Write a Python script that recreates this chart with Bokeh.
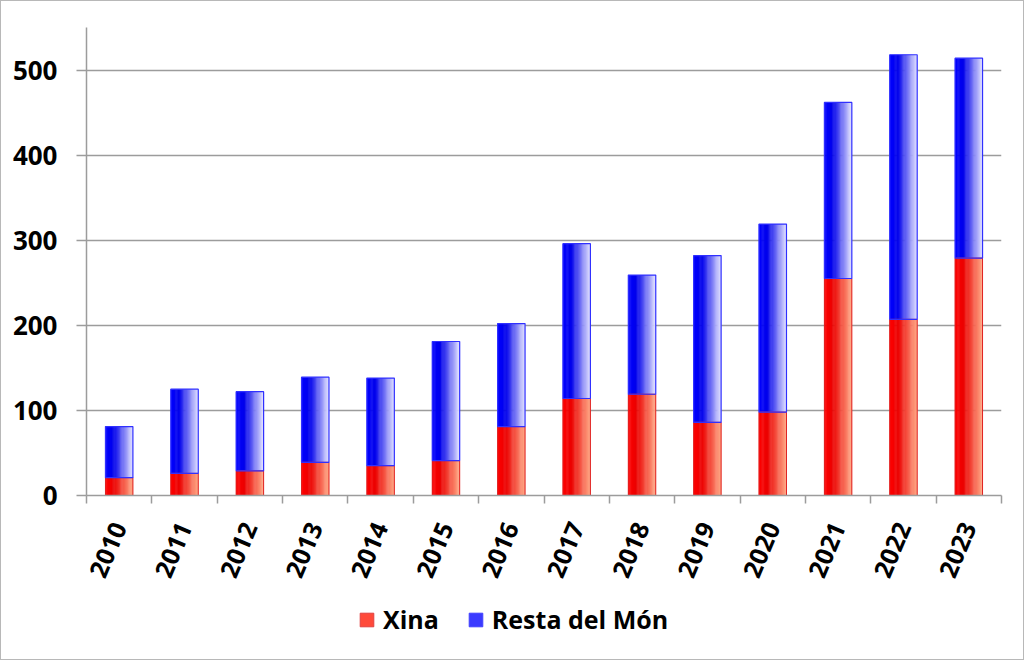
import math
from bokeh.plotting import figure
from bokeh.layouts import column
from bokeh.models import Range1d, FixedTicker, Legend, LegendItem, ColumnDataSource
from bokeh.embed import file_html
from bokeh.resources import INLINE

years = ["2010", "2011", "2012", "2013", "2014", "2015", "2016",
         "2017", "2018", "2019", "2020", "2021", "2022", "2023"]
xina = [21, 26, 29, 39, 35, 41, 81, 114, 119, 86, 98, 255, 207, 279]
total = [81, 125, 122, 139, 138, 181, 202, 296, 259, 282, 319, 462, 518, 514]
resta = [t - c for t, c in zip(total, xina)]

y_ticks = [0, 100, 200, 300, 400, 500]

FONT = "Open Sans"
GRID = "#9c9c9c"

def hexc(rgb):
    return "#%02x%02x%02x" % tuple(int(round(v)) for v in rgb)

def grad(stops, t):
    for (t0, c0), (t1, c1) in zip(stops, stops[1:]):
        if t <= t1:
            f = (t - t0) / (t1 - t0) if t1 > t0 else 0
            return hexc([a + (b - a) * f for a, b in zip(c0, c1)])
    return hexc(stops[-1][1])

red_stops = [(0.0, (255, 0, 0)), (0.3, (235, 0, 0)), (1.0, (255, 170, 135))]
blue_stops = [(0.0, (0, 0, 255)), (0.3, (0, 0, 235)), (1.0, (228, 228, 255))]

p = figure(width=1022, height=590, output_backend="svg", toolbar_location=None,
           x_range=Range1d(0, len(years)), y_range=Range1d(0, 550),
           min_border_left=85, min_border_top=26, min_border_right=22,
           min_border_bottom=96)
p.outline_line_color = None
p.background_fill_color = "white"
p.border_fill_color = "white"

BW = 0.42
N = 24
centers = [i + 0.5 for i in range(len(years))]

# gradient strips
for seg_bottom, seg_top, stops in ((
        [0] * len(years), xina, red_stops), (xina, total, blue_stops)):
    xs, bs, ts, cs = [], [], [], []
    for c, b, t in zip(centers, seg_bottom, seg_top):
        for j in range(N):
            f = (j + 0.5) / N
            xs.append(c - BW / 2 + f * BW)
            bs.append(b)
            ts.append(t)
            cs.append(grad(stops, f))
    src = ColumnDataSource(dict(x=xs, bottom=bs, top=ts, color=cs))
    p.vbar(x="x", bottom="bottom", top="top", width=BW / N * 1.4,
           fill_color="color", line_color=None, source=src)

r_out = p.vbar(x=centers, bottom=0, top=xina, width=BW, fill_alpha=0,
               line_color="#e02020", line_width=1)
b_out = p.vbar(x=centers, bottom=xina, top=total, width=BW, fill_alpha=0,
               line_color="#3030ff", line_width=1.2)

# axes
xa = p.xaxis[0]
xa.ticker = FixedTicker(ticks=centers, minor_ticks=list(range(len(years) + 1)))
xa.major_label_overrides = {c: y for c, y in zip(centers, years)}
xa.major_tick_out = 0
xa.major_tick_in = 0
xa.minor_tick_out = 8
xa.minor_tick_in = 0
xa.minor_tick_line_color = GRID
xa.minor_tick_line_width = 1.5
xa.axis_line_color = GRID
xa.axis_line_width = 1.5
xa.major_label_orientation = math.radians(67)
xa.major_label_text_font = FONT
xa.major_label_text_font_style = "bold"
xa.major_label_text_font_size = "25px"
xa.major_label_text_color = "black"
xa.major_label_standoff = 20

ya = p.yaxis[0]
ya.ticker = FixedTicker(ticks=y_ticks)
ya.major_tick_out = 10
ya.major_tick_in = 0
ya.minor_tick_out = 0
ya.minor_tick_in = 0
ya.major_tick_line_color = GRID
ya.major_tick_line_width = 1.5
ya.axis_line_color = GRID
ya.axis_line_width = 1.5
ya.major_label_text_font = FONT
ya.major_label_text_font_style = "bold"
ya.major_label_text_font_size = "26px"
ya.major_label_text_color = "black"
ya.major_label_standoff = 19

p.xgrid.grid_line_color = None
p.ygrid.ticker = FixedTicker(ticks=y_ticks)
p.ygrid.grid_line_color = GRID
p.ygrid.grid_line_width = 1.5

# legend in its own strip below the chart
lf = figure(width=1022, height=68, output_backend="svg", toolbar_location=None,
            x_range=Range1d(0, 1), y_range=Range1d(0, 1), min_border=0,
            min_border_bottom=12)
lf.axis.visible = False
lf.grid.visible = False
lf.outline_line_color = None
# swatch renderers: no drawable data, used only for the legend swatches
nan = float("nan")
leg_r = lf.vbar(x=[nan], bottom=[nan], top=[nan], width=0.1,
                fill_color="#ff4a3a", line_color="#e04040")
leg_b = lf.vbar(x=[nan], bottom=[nan], top=[nan], width=0.1,
                fill_color="#3a3aff", line_color="#4040ff")
legend = Legend(items=[LegendItem(label="Xina", renderers=[leg_r]),
                       LegendItem(label="Resta del Món", renderers=[leg_b])],
                orientation="horizontal", location="center_left")
legend.label_text_font = FONT
legend.label_text_font_style = "bold"
legend.label_text_font_size = "25px"
legend.label_text_color = "black"
legend.glyph_width = 17
legend.glyph_height = 17
legend.label_standoff = 8
legend.spacing = 28
legend.border_line_color = None
legend.background_fill_alpha = 0
legend.margin = 272
legend.padding = 4
lf.add_layout(legend, "center")

layout = column(p, lf, spacing=0)
layout.styles = {"border": "1px solid #b8b8b8"}

open("out.html", "w").write(file_html(layout, INLINE))
